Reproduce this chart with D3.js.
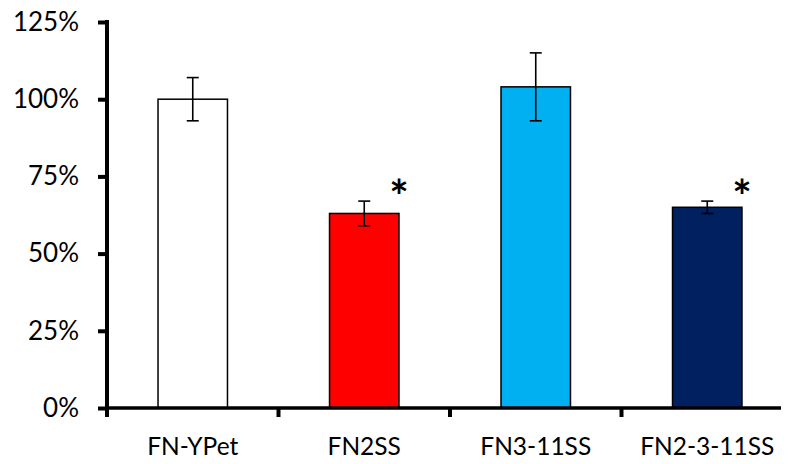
<!DOCTYPE html>
<html>
<head>
<meta charset="utf-8">
<script src="https://cdn.jsdelivr.net/npm/d3@7"></script>
<style>
  body { margin: 0; background: #fff; }
  svg { display: block; }
  text { font-family: Lato, "Open Sans", sans-serif; fill: #000; }
</style>
</head>
<body>
<div id="chart"></div>
<script>
// data
const categories = ["FN-YPet", "FN2SS", "FN3-11SS", "FN2-3-11SS"];
const values = [1.00, 0.63, 1.04, 0.65];
const errors = [0.07, 0.04, 0.11, 0.02];
const significant = [false, true, false, true];
const colors = ["#ffffff", "#ff0000", "#00b0f0", "#002060"];
const yTicks = [0, 0.25, 0.5, 0.75, 1.0, 1.25];

const width = 788, height = 464;
const margin = {top: 22, left: 107, bottom: 56};

const svg = d3.select("#chart").append("svg")
  .attr("width", width)
  .attr("height", height);

// x scale, bands a bit wider than what is visible (right end is cut off)
const x = d3.scaleBand()
  .domain(categories)
  .range([margin.left, margin.left + 4 * 171.5])
  .padding(0);

const y = d3.scaleLinear()
  .domain([0, 1.25])
  .range([height - margin.bottom, margin.top]);

const barW = x.bandwidth() * 0.405;

// bars
svg.append("g").selectAll("rect")
  .data(categories)
  .enter()
  .append("rect")
  .attr("x", (d) => x(d) + x.bandwidth() / 2 - barW / 2)
  .attr("y", (d, i) => y(values[i]))
  .attr("width", barW)
  .attr("height", (d, i) => y(0) - y(values[i]))
  .attr("fill", (d, i) => colors[i])
  .attr("stroke", "#000")
  .attr("stroke-width", 1.5);

// error bars
const eb = svg.append("g").selectAll("g")
  .data(categories)
  .enter()
  .append("g")
  .attr("transform", (d) => "translate(" + (x(d) + x.bandwidth() / 2) + ",0)")
  .attr("stroke", "#000")
  .attr("stroke-width", 1.6);

eb.append("line")
  .attr("y1", (d, i) => y(values[i] - errors[i]))
  .attr("y2", (d, i) => y(values[i] + errors[i]));
eb.append("line")
  .attr("x1", -6).attr("x2", 6)
  .attr("y1", (d, i) => y(values[i] + errors[i]))
  .attr("y2", (d, i) => y(values[i] + errors[i]));
eb.append("line")
  .attr("x1", -6).attr("x2", 6)
  .attr("y1", (d, i) => y(values[i] - errors[i]))
  .attr("y2", (d, i) => y(values[i] - errors[i]));

// asterisks
svg.append("g").selectAll("text")
  .data(categories.filter((d, i) => significant[i]))
  .enter()
  .append("text")
  .attr("x", (d) => x(d) + x.bandwidth() / 2 + barW / 2)
  .attr("y", (d) => {
    const i = categories.indexOf(d);
    return y(values[i] + errors[i]) + 12;
  })
  .attr("text-anchor", "middle")
  .style("font-size", "46px")
  .style("font-weight", "bold")
  .text("*");

// y axis
const yAxis = svg.append("g")
  .attr("transform", "translate(" + margin.left + ",0)")
  .call(d3.axisLeft(y).tickValues(yTicks).tickSize(9).tickPadding(19)
    .tickFormat(d3.format(".0%")));
yAxis.select(".domain").attr("d", "M0," + (y(1.25) - 2) + "V" + (y(0) + 9))
  .attr("stroke-width", 4);
yAxis.selectAll(".tick line").attr("stroke-width", 4);
yAxis.selectAll(".tick text")
  .style("font-size", "26px")
  .attr("font-family", null);

// x axis
const xAxis = svg.append("g")
  .attr("transform", "translate(0," + y(0) + ")");
xAxis.append("line")
  .attr("x1", margin.left).attr("x2", 781)
  .attr("stroke", "#000").attr("stroke-width", 3.5);
xAxis.selectAll(".xt")
  .data(categories.slice(1))
  .enter()
  .append("line")
  .attr("x1", (d) => x(d)).attr("x2", (d) => x(d))
  .attr("y1", 0).attr("y2", 9)
  .attr("stroke", "#000").attr("stroke-width", 4);
xAxis.selectAll(".xl")
  .data(categories)
  .enter()
  .append("text")
  .attr("x", (d) => x(d) + x.bandwidth() / 2)
  .attr("y", 47)
  .attr("text-anchor", "middle")
  .style("font-size", "24.5px")
  .text((d) => d);
</script>
</body>
</html>
